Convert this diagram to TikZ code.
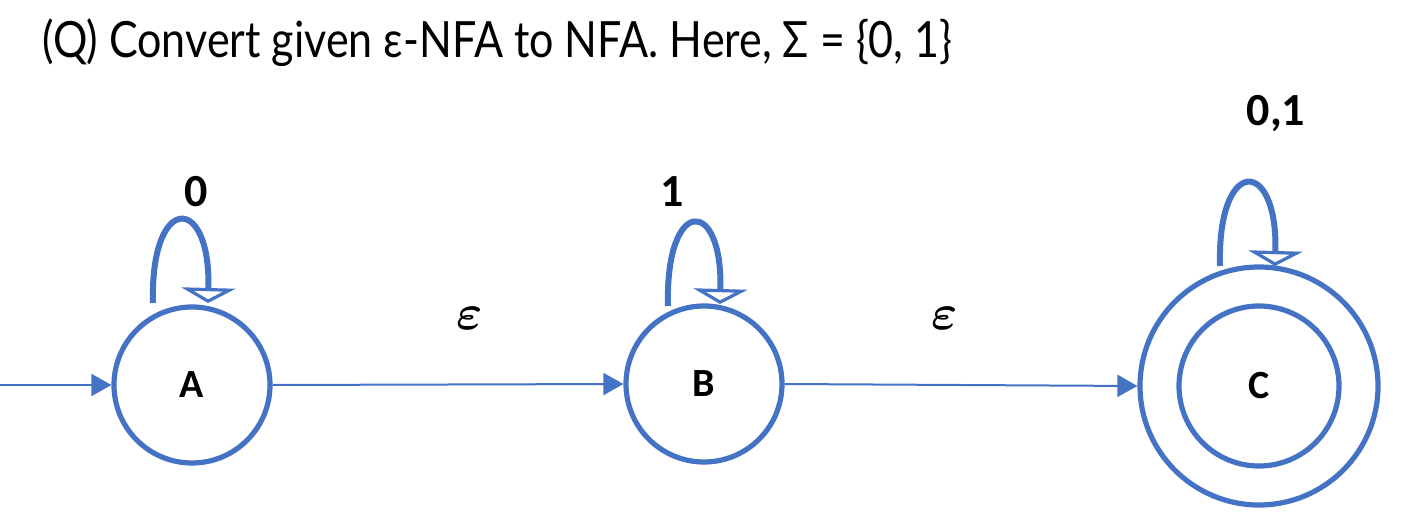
\documentclass[tikz,border=0pt]{standalone}
\usepackage{fontspec}
\usepackage{bm}
\setmainfont{Lato}
\newfontfamily\labelfont{Carlito}
\newfontfamily\titlefont[FakeStretch=0.86]{Lato}
\usetikzlibrary{arrows.meta,calc}
\definecolor{nfablue}{HTML}{4472C4}
\tikzset{
 state/.style={circle,draw=nfablue,line width=2.6pt,minimum size=78pt,inner sep=0,font=\labelfont\bfseries\fontsize{20}{24}\selectfont},
 accept/.style={state,minimum size=119pt},
 ring/.style={draw=nfablue,line width=2.6pt},
 edge/.style={draw=nfablue,line width=1pt,-{Triangle[length=10pt,width=11pt]}},
 selfloop/.style={draw=nfablue,line width=3pt,-{Triangle[open,length=7.5pt,width=27pt,line width=1.6pt]}},
 sym/.style={anchor=base,inner sep=0,font=\labelfont\bfseries\fontsize{23}{27}\selectfont},
 eps/.style={inner sep=0,font=\fontsize{30}{34}\selectfont},
 title/.style={anchor=base west,inner sep=0,font=\titlefont\fontsize{25}{30}\selectfont}
}
\begin{document}
\begin{tikzpicture}[x=0.5pt,y=0.5pt]
\useasboundingbox (0,0) rectangle (1402,525);
\node[title] (q) at (42,467) {(Q) Convert given ε-NFA to NFA. Here, Σ = \{0, 1\}};
\coordinate (in) at (0,140);
\node[state] (A) at (192,140) {A};
\node[state] (B) at (704,141) {B};
\node[accept] (C) at (1259,139) {C};
\draw[ring] (C.center) circle (40pt);
\draw[edge] (in) -- (A.west);
\draw[edge] (A.east) -- (B.west);
\draw[edge] (B.east) -- (C.west);
\node[eps] (e1) at (470,207) {$\bm{\varepsilon}$};
\node[eps] (e2) at (945,207) {$\bm{\varepsilon}$};
% self loops
\draw[selfloop] ($(A)+(-39,82)$) .. controls ($(A)+(-42,192)$) and ($(A)+(19,192)$) .. ($(A)+(16,82)$);
\draw[selfloop] ($(B)+(-36,78)$) .. controls ($(B)+(-39,188)$) and ($(B)+(19,188)$) .. ($(B)+(16,80)$);
\draw[selfloop] ($(C)+(-39,120)$) .. controls ($(C)+(-42,230)$) and ($(C)+(19,230)$) .. ($(C)+(16,120)$);
\node[sym] (l0) at (196,318) {0};
\node[sym] (l1) at (672,318) {1};
\node[sym] (l01) at (1276,399) {0,1};
\end{tikzpicture}
\end{document}
